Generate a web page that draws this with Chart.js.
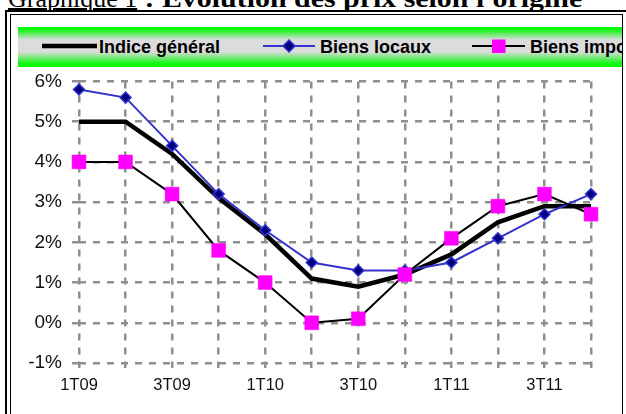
<!DOCTYPE html>
<html>
<head>
<meta charset="utf-8">
<script src="https://cdn.jsdelivr.net/npm/chart.js@4"></script>
<style>
  html, body { margin: 0; padding: 0; background: #fff; overflow: hidden; }
  body { width: 626px; height: 414px; position: relative; }
  #title { position: absolute; left: 8px; top: -14px; white-space: nowrap;
           font-family: "Liberation Serif", "Times New Roman", serif; font-size: 26px; line-height: 26px; color: #000; }
  #title .u { text-decoration: underline; text-decoration-thickness: 2px; text-underline-offset: 1px; }
  #title b { font-weight: bold; display: inline-block; transform: scaleX(1.15); transform-origin: 0 0; white-space: pre; }
  .frameOuter { position: absolute; left: 5px; top: 10px; width: 626px; height: 420px; border: 2px solid #000; box-sizing: border-box; }
  .frameInner { position: absolute; left: 10px; top: 14px; width: 613px; height: 420px; border: 1.5px solid #000; box-sizing: border-box; }
  #legend { position: absolute; left: 18px; top: 27px; width: 604px; height: 40px; overflow: hidden;
            background: linear-gradient(to bottom, #00ff00 0%, #19f519 8%, #dcdcdc 32%, #dcdcdc 62%, #19f519 90%, #00ff00 100%); z-index: 2; }
  .lt { position: absolute; top: 9px; font-family: "Liberation Sans", Arial, sans-serif; font-weight: bold; font-size: 18px; line-height: 22px; color: #000; white-space: nowrap; }
  #legend svg { position: absolute; left: 0; top: 0; }
  #wrap { position: absolute; left: 0; top: 0; width: 626px; height: 414px; z-index: 1; }
</style>
</head>
<body>
<div id="title"><span class="u">Graphique 1</span><b> : Evolution des prix selon l'origine</b></div>
<div class="frameOuter"></div>
<div class="frameInner"></div>
<div id="wrap"><canvas id="c" width="626" height="414"></canvas></div>
<div id="legend">
  <svg width="604" height="40">
    <line x1="24" y1="19" x2="79" y2="19" stroke="#000" stroke-width="4.5"/>
    <line x1="245" y1="19" x2="297" y2="19" stroke="#3333cc" stroke-width="2"/>
    <polygon points="271,13 277,19 271,25 265,19" fill="#000080" stroke="#3333cc" stroke-width="1.5"/>
    <line x1="454" y1="19" x2="507" y2="19" stroke="#000" stroke-width="2"/>
    <rect x="474" y="12.5" width="13.5" height="13.5" fill="#ff00ff"/>
  </svg>
  <div class="lt" style="left:81px">Indice général</div>
  <div class="lt" style="left:302px">Biens locaux</div>
  <div class="lt" style="left:512px">Biens importés</div>
</div>
<script>
const categories = ['1T09','2T09','3T09','4T09','1T10','2T10','3T10','4T10','1T11','2T11','3T11','4T11'];
const indiceGeneral = [5.0, 5.0, 4.2, 3.1, 2.2, 1.1, 0.9, 1.2, 1.7, 2.5, 2.9, 2.9];
const biensLocaux   = [5.8, 5.6, 4.4, 3.2, 2.3, 1.5, 1.3, 1.3, 1.5, 2.1, 2.7, 3.2];
const biensImportes = [4.0, 4.0, 3.2, 1.8, 1.0, 0.0, 0.1, 1.2, 2.1, 2.9, 3.2, 2.7];
const yMin = -1, yMax = 6, yStep = 1;

const gridColor = '#8f8f8f';
const tickFont = { family: '"Liberation Sans", Arial, sans-serif' };

new Chart(document.getElementById('c'), {
  type: 'line',
  data: {
    labels: categories,
    datasets: [
      { label: 'Biens importés', data: biensImportes, order: 0, borderColor: '#000', borderWidth: 2,
        pointStyle: 'rect', pointRadius: 9.8, pointBackgroundColor: '#ff00ff', pointBorderColor: '#ff00ff', pointBorderWidth: 0.5,
        tension: 0, clip: false },
      { label: 'Biens locaux', data: biensLocaux, order: 1, borderColor: '#3333cc', borderWidth: 2,
        pointStyle: 'rectRot', pointRadius: 5.5, pointBackgroundColor: '#000080', pointBorderColor: '#3333cc', pointBorderWidth: 1.5,
        tension: 0, clip: false },
      { label: 'Indice général', data: indiceGeneral, order: 2, borderColor: '#000', borderWidth: 4.5,
        pointRadius: 0, tension: 0, clip: false, borderJoinStyle: 'miter' }
    ]
  },
  options: {
    responsive: false,
    animation: false,
    events: [],
    layout: { padding: { left: 0, top: 81.5, right: 35, bottom: 0 } },
    plugins: { legend: { display: false }, tooltip: { enabled: false } },
    scales: {
      x: {
        offset: false,
        border: { display: false, dash: [7, 7] },
        grid: { color: gridColor, lineWidth: 2.5, tickLength: 5, tickBorderDash: [7, 7], drawTicks: true },
        ticks: { autoSkip: false, maxRotation: 0, color: '#111', padding: 8, font: { ...tickFont, size: 16.5 },
                 callback: function(v, i) { return i % 2 === 0 ? categories[i] : ''; } },
        afterFit: function(s) { s.height = 414 - 363; }
      },
      y: {
        min: yMin, max: yMax,
        border: { display: false, dash: [7, 7] },
        grid: { color: gridColor, lineWidth: 2.5, tickLength: 7, tickBorderDash: [7, 7] },
        ticks: { stepSize: yStep, color: '#111', padding: 10, font: { ...tickFont, size: 19 },
                 callback: function(v) { return v + '%'; } },
        afterFit: function(s) { s.width = 79; }
      }
    }
  }
});
</script>
</body>
</html>
